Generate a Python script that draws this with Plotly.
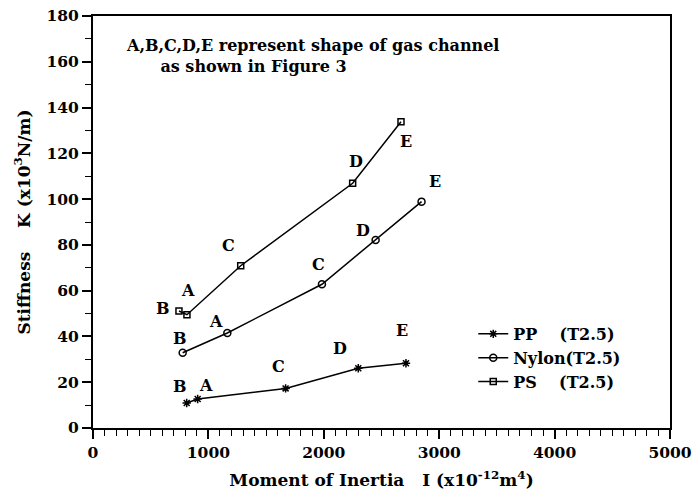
import plotly.graph_objects as go

# Moment of inertia (x1e-12 m^4) and stiffness (x1e3 N/m) per gas-channel shape
shapes = ["B", "A", "C", "D", "E"]

pp_inertia = [812, 907, 1669, 2299, 2712]
pp_stiff = [10.9, 12.7, 17.3, 26.1, 28.3]

nylon_inertia = [777, 1164, 1984, 2449, 2847]
nylon_stiff = [32.9, 41.5, 62.8, 82.1, 98.9]

ps_inertia = [745, 814, 1280, 2250, 2669]
ps_stiff = [51.1, 49.5, 70.9, 106.9, 133.8]

# label offsets (px) for the shape letters next to each point
pp_off = [(-7, 17), (8, 13), (-7, 22), (-18, 20), (-4, 33)]
nylon_off = [(-3, 14), (-11, 12), (-3, 20), (-13, 10), (13, 20)]
ps_off = [(-16, 3), (1, 24), (-12, 20), (3, 22), (5, -20)]

FONT = "DejaVu Serif"
NB = "\u00a0"

fig = go.Figure()
series = [
    ("PP" + NB * 4 + "(T2.5)", pp_inertia, pp_stiff, "asterisk-open", 7, pp_off),
    ("Nylon(T2.5)", nylon_inertia, nylon_stiff, "circle-open", 7, nylon_off),
    ("PS" + NB * 4 + "(T2.5)", ps_inertia, ps_stiff, "square-open", 6, ps_off),
]
for name, xs, ys, sym, size, offs in series:
    fig.add_trace(go.Scatter(
        x=xs, y=ys, mode="lines+markers", name=name,
        line=dict(color="black", width=1.5),
        marker=dict(symbol=sym, size=size, color="black",
                    line=dict(color="black", width=1.5)),
    ))
    for lab, x, y, (dx, dy) in zip(shapes, xs, ys, offs):
        fig.add_annotation(x=x, y=y, text=f"<b>{lab}</b>", showarrow=False,
                           xshift=dx, yshift=dy,
                           font=dict(family=FONT, size=16, color="black"))

fig.add_annotation(
    xref="paper", yref="paper", x=0.053, y=0.902, xanchor="left", yanchor="middle",
    align="left", showarrow=False,
    text="A,B,C,D,E represent shape of gas channel<br>" + NB * 6 + "as shown in Figure 3",
    font=dict(family=FONT, size=16, color="black", weight="bold"),
)

axis_common = dict(
    showline=True, linecolor="black", linewidth=2, mirror=True,
    showgrid=False, zeroline=False, ticks="outside", ticklen=9,
    tickwidth=1.5, tickcolor="black", automargin=False,
    ticklabeloverflow="allow",
    tickfont=dict(family=FONT, size=15.5, color="black", weight="bold"),
)
title_font = dict(family=FONT, size=17, color="black", weight="bold")

fig.update_xaxes(
    range=[0, 5000], dtick=1000, tickformat="d",
    minor=dict(dtick=100, ticks="outside", ticklen=6, tickwidth=1.2, tickcolor="black"),
    title=dict(text="Moment of Inertia" + NB * 3 + "I (x10<sup>-12</sup>m<sup>4</sup>)",
               font=title_font, standoff=14),
    **axis_common,
)
fig.update_yaxes(
    range=[0, 180], dtick=20,
    minor=dict(dtick=10, ticks="outside", ticklen=6, tickwidth=1.2, tickcolor="black"),
    title=dict(text="Stiffness" + NB * 4 + "K (x10<sup>3</sup>N/m)",
               font=title_font, standoff=12),
    **axis_common,
)

fig.update_layout(
    width=692, height=493,
    margin=dict(l=93, r=22, t=16, b=65),
    paper_bgcolor="white", plot_bgcolor="white",
    showlegend=True,
    legend=dict(x=0.659, y=0.17, xanchor="left", yanchor="middle",
                bgcolor="rgba(0,0,0,0)", tracegroupgap=0,
                font=dict(family=FONT, size=16, color="black", weight="bold")),
)

fig.write_html("out.html")
